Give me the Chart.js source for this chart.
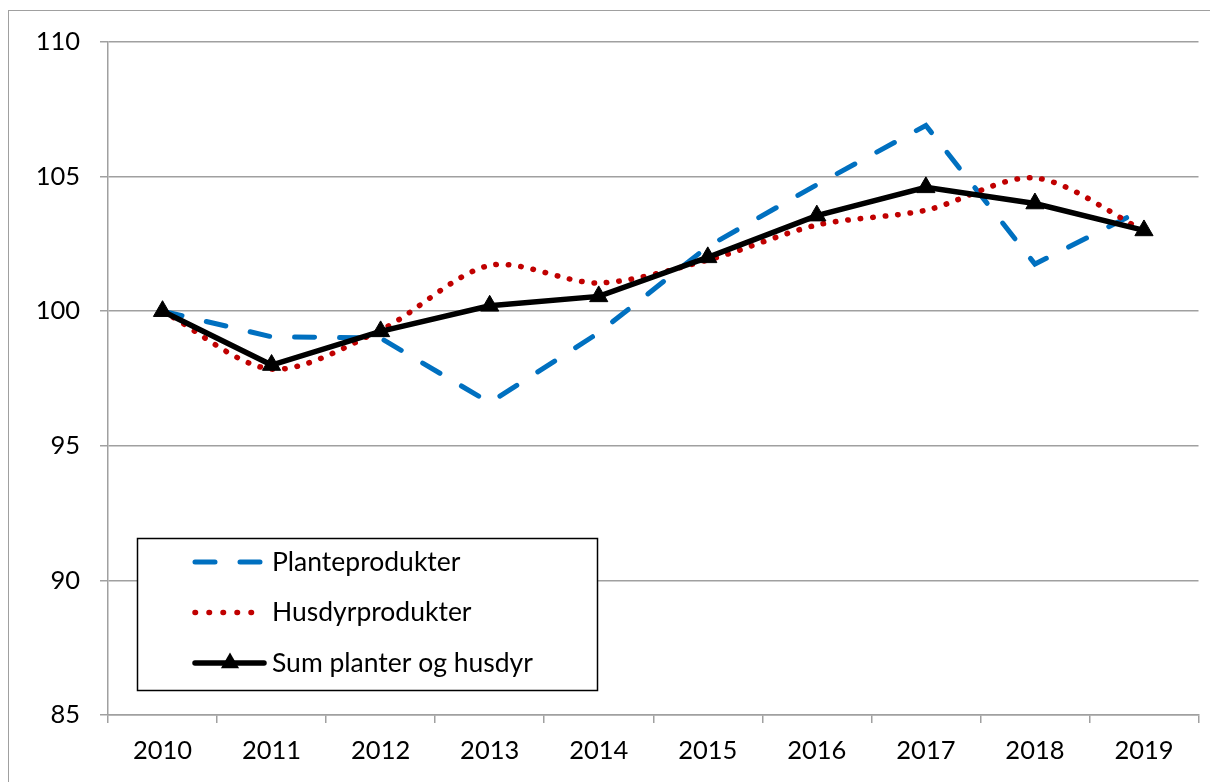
<!DOCTYPE html>
<html>
<head>
<meta charset="utf-8">
<script src="https://cdn.jsdelivr.net/npm/chart.js@4/dist/chart.umd.min.js"></script>
<style>
  html, body { margin: 0; padding: 0; background: #fff; overflow: hidden; }
  #frame { position: absolute; left: 8px; top: 10px; width: 1300px; height: 900px; border: 1px solid #a0a0a0; }
  #myChart { position: absolute; left: 0; top: 0; }
</style>
</head>
<body>
<div id="frame"></div>
<canvas id="myChart" width="1210" height="782"></canvas>
<script>
// years on the x axis
let years = ["2010", "2011", "2012", "2013", "2014", "2015", "2016", "2017", "2018", "2019"];
// index values (2010 = 100)
let planteprodukter = [100, 99.05, 99.0, 96.6, 99.2, 102.4, 104.7, 106.9, 101.75, 103.8];
let husdyrprodukter = [100, 97.85, 99.3, 101.7, 101.05, 101.9, 103.2, 103.75, 104.95, 103.0];
let sumPlanterHusdyr = [100, 98.0, 99.25, 100.2, 100.55, 102.0, 103.55, 104.6, 104.0, 103.0];
let yTicks = [85, 90, 95, 100, 105, 110];

let myChart = document.getElementById("myChart");
let fontFamily = "Lato, 'Open Sans', sans-serif";
let gridGrey = "#a0a0a0";

// legend drawn inside the plot, like the original
const legendBox = {
  id: "legendBox",
  afterDraw(chart) {
    const ctx = chart.ctx;
    ctx.save();
    ctx.fillStyle = "#fff";
    ctx.fillRect(137, 538, 460, 152);
    ctx.strokeStyle = "#000";
    ctx.lineWidth = 1.5;
    ctx.strokeRect(137.5, 538.5, 460, 152);

    chart.data.datasets.forEach((ds, i) => {
      let y = 562 + i * 50.5;
      ctx.strokeStyle = ds.borderColor;
      ctx.lineWidth = ds.borderWidth;
      ctx.lineCap = "round";
      ctx.setLineDash(ds.legendDash || []);
      ctx.beginPath();
      ctx.moveTo(195, y);
      ctx.lineTo(264, y);
      ctx.stroke();
      ctx.setLineDash([]);
      if (ds.pointStyle === "triangle") {
        let r = ds.pointRadius;
        ctx.fillStyle = ds.pointBackgroundColor;
        ctx.beginPath();
        ctx.moveTo(230, y - r);
        ctx.lineTo(230 + r * 0.866, y + r * 0.5);
        ctx.lineTo(230 - r * 0.866, y + r * 0.5);
        ctx.closePath();
        ctx.fill();
      }
      ctx.fillStyle = "#000";
      ctx.font = "26.5px " + fontFamily;
      ctx.textBaseline = "middle";
      ctx.textAlign = "left";
      ctx.fillText(ds.label, 272, y);
    });
    ctx.restore();
  },
};

const data = {
  labels: years,
  datasets: [
    {
      label: "Planteprodukter",
      data: planteprodukter,
      borderColor: "#0070C0",
      borderWidth: 5,
      borderDash: [20, 25],
      legendDash: [20, 25],
      borderCapStyle: "round",
      pointRadius: 0,
      tension: 0,
      order: 2,
    },
    {
      label: "Husdyrprodukter",
      data: husdyrprodukter,
      borderColor: "#C00000",
      borderWidth: 5.5,
      borderDash: [0.5, 12],
      legendDash: [0.5, 13.5],
      borderCapStyle: "round",
      pointRadius: 0,
      tension: 0.3,
      order: 1,
    },
    {
      label: "Sum planter og husdyr",
      data: sumPlanterHusdyr,
      borderColor: "#000",
      borderWidth: 5.5,
      pointStyle: "triangle",
      pointRadius: 10.5,
      pointBackgroundColor: "#000",
      pointBorderColor: "#000",
      pointBorderWidth: 1,
      tension: 0,
      order: 0,
    },
  ],
};

const config = {
  type: "line",
  data: data,
  options: {
    responsive: false,
    animation: false,
    layout: { padding: { left: 0, top: 42, right: 7, bottom: 0 } },
    plugins: { legend: { display: false }, tooltip: { enabled: false } },
    scales: {
      x: {
        offset: true,
        grid: { offset: true, drawOnChartArea: false, color: gridGrey, lineWidth: 1.5, tickLength: 8 },
        border: { color: gridGrey, width: 1.5 },
        ticks: { color: "#000", font: { family: fontFamily, size: 25.5 }, padding: 12, maxRotation: 0 },
        afterFit: (s) => { s.height = 67; },
      },
      y: {
        min: yTicks[0],
        max: yTicks[yTicks.length - 1],
        afterBuildTicks: (s) => { s.ticks = yTicks.map((v) => ({ value: v })); },
        grid: { color: gridGrey, lineWidth: 1.5, tickLength: 8 },
        border: { color: gridGrey, width: 1.5 },
        ticks: { color: "#000", font: { family: fontFamily, size: 25.5 }, padding: 20 },
        afterFit: (s) => { s.width = 108; },
      },
    },
  },
  plugins: [legendBox],
};

const newChart = new Chart(myChart, config);
</script>
</body>
</html>
